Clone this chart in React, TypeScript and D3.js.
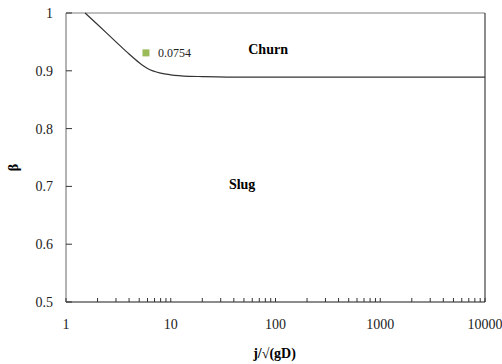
import React from "react";
import * as d3 from "d3";

// boundary curve between churn and slug regions
const boundaryX = [1.52, 2, 3, 4, 5, 6, 8, 10, 15, 20, 50, 100, 1000, 10000];
const boundaryB = [1.0, 0.98, 0.95, 0.929, 0.914, 0.904, 0.896, 0.893, 0.8905, 0.890, 0.889, 0.889, 0.889, 0.889];

// single measured point
const pointX = [5.8];
const pointB = [0.931];
const pointLabel = ["0.0754"];

const xTicks = [1, 10, 100, 1000, 10000];
const yTicks = [0.5, 0.6, 0.7, 0.8, 0.9, 1];

const regionNames = ["Churn", "Slug"];
const regionX = [85, 48];
const regionB = [0.938, 0.704];

const width = 502;
const height = 364;
const margin = { top: 13, right: 17, bottom: 62, left: 66 };
const font = "'Liberation Serif', 'Times New Roman', serif";

export default function App() {
  const innerW = width - margin.left - margin.right;
  const innerH = height - margin.top - margin.bottom;

  const x = d3.scaleLog().domain([1, 10000]).range([0, innerW]);
  const y = d3.scaleLinear().domain([0.5, 1]).range([innerH, 0]);

  const line = d3
    .line<number>()
    .x((d) => x(boundaryX[d]))
    .y((d) => y(boundaryB[d]))
    .curve(d3.curveMonotoneX);

  const minorTicks: number[] = [];
  for (let dec = 1; dec < 10000; dec *= 10) {
    for (let k = 1; k <= 9; k++) minorTicks.push(dec * k);
  }
  minorTicks.push(10000);

  return (
    <svg
      width={width}
      height={height}
      style={{ position: "absolute", left: 0, top: 0, background: "#fff" }}
    >
      <g transform={`translate(${margin.left},${margin.top})`}>
        {/* frame */}
        <line x1={0} x2={innerW} y1={0} y2={0} stroke="#808080" strokeWidth={1.2} />
        <line x1={innerW} x2={innerW} y1={0} y2={innerH} stroke="#404040" strokeWidth={1.2} />
        <line x1={0} x2={0} y1={0} y2={innerH} stroke="#808080" strokeWidth={1.2} />
        <line x1={0} x2={innerW} y1={innerH} y2={innerH} stroke="#1a1a1a" strokeWidth={1.2} />

        {/* x ticks */}
        {minorTicks.map((t, i) => (
          <line key={i} x1={x(t)} x2={x(t)} y1={innerH} y2={innerH - 4} stroke="#333" strokeWidth={1} />
        ))}
        {xTicks.map((t) => (
          <text
            key={t}
            x={x(t)}
            y={innerH + 27}
            textAnchor="middle"
            fontFamily={font}
            fontSize={14}
            fill="#222"
          >
            {t}
          </text>
        ))}

        {/* y ticks */}
        {yTicks.map((t) => (
          <g key={t}>
            <line x1={0} x2={6} y1={y(t)} y2={y(t)} stroke="#333" strokeWidth={1} />
            <text
              x={-13}
              y={y(t) + 5}
              textAnchor="end"
              fontFamily={font}
              fontSize={14}
              fill="#222"
            >
              {t}
            </text>
          </g>
        ))}

        {/* boundary */}
        <path
          d={line(d3.range(boundaryX.length)) || ""}
          fill="none"
          stroke="#333"
          strokeWidth={1.2}
        />

        {/* point */}
        {pointX.map((px, i) => (
          <g key={i}>
            <rect x={x(px) - 3.5} y={y(pointB[i]) - 3.5} width={7} height={7} fill="#9bbb59" />
            <text
              x={x(px) + 12}
              y={y(pointB[i]) + 4}
              fontFamily={font}
              fontSize={12}
              fill="#222"
            >
              {pointLabel[i]}
            </text>
          </g>
        ))}

        {/* region labels */}
        {regionNames.map((n, i) => (
          <text
            key={n}
            x={x(regionX[i])}
            y={y(regionB[i]) + 5}
            textAnchor="middle"
            fontFamily={font}
            fontSize={14}
            fontWeight="bold"
          >
            {n}
          </text>
        ))}
      </g>

      {/* axis titles */}
      <text
        x={margin.left + innerW / 2 - 1}
        y={height - 6}
        textAnchor="middle"
        fontFamily={font}
        fontSize={14}
        fontWeight="bold"
      >
        j/√(gD)
      </text>
      <text
        transform={`translate(18,${margin.top + innerH / 2 + 10}) rotate(-90)`}
        textAnchor="middle"
        fontFamily={font}
        fontSize={14}
        fontWeight="bold"
      >
        β
      </text>
    </svg>
  );
}
